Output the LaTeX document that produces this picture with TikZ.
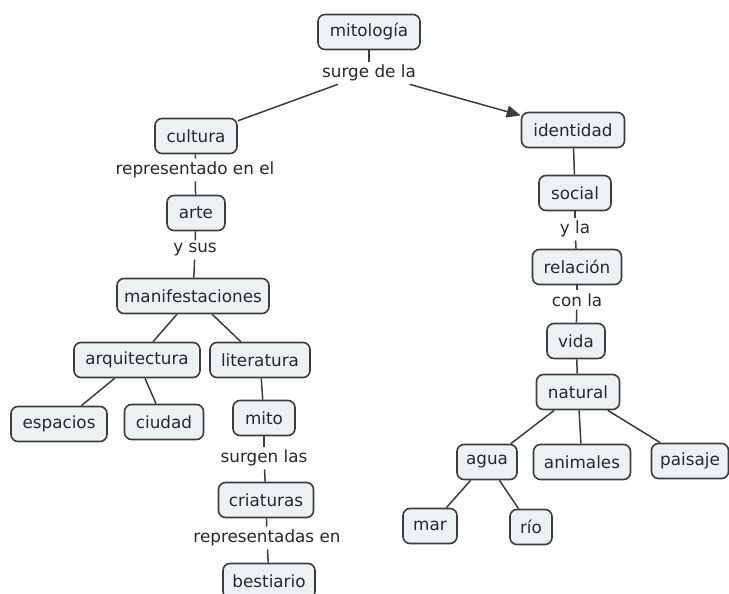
\documentclass[tikz,border=0pt]{standalone}
\usepackage{fontspec}
\setmainfont{DejaVu Sans}
\usetikzlibrary{arrows.meta}
\definecolor{boxfill}{RGB}{236,242,244}
\definecolor{edgec}{RGB}{60,60,60}
\definecolor{txtc}{RGB}{40,40,40}
\begin{document}
\begin{tikzpicture}[x=1pt,y=-1pt,
  concept/.style={draw=edgec, line width=1.6pt, fill=boxfill, rounded corners=7pt,
    minimum height=35pt, inner xsep=4pt, inner ysep=2pt, text=txtc,
    font=\fontsize{16.8}{18}\selectfont},
  linkl/.style={inner sep=3pt, text=txtc, font=\fontsize{16.8}{18}\selectfont},
  conn/.style={draw=edgec, line width=1.5pt},
  arr/.style={conn, -{Triangle[length=14pt,width=12pt]}}]
\useasboundingbox (0,0) rectangle (729,594);
% left branch
\node[concept, minimum width=102] (mit) at (369,32) {mitología};
\node[linkl] (l1) at (369,73) {surge de la};
\node[concept, minimum width=82] (cul) at (196,136) {cultura};
\node[linkl] (l2) at (195,170) {representado en el};
\node[concept, minimum width=58] (art) at (196,213) {arte};
\node[linkl] (l3) at (195,250) {y sus};
\node[concept, minimum width=152] (man) at (193,296) {manifestaciones};
\node[concept, minimum width=126] (arq) at (137,360) {arquitectura};
\node[concept, minimum width=100] (lit) at (260,360) {literatura};
\node[concept, minimum width=96] (esp) at (59,424) {espacios};
\node[concept, minimum width=79] (ciu) at (164,422) {ciudad};
\node[concept, minimum width=62] (mto) at (264,418) {mito};
\node[linkl] (l4) at (264,458) {surgen las};
\node[concept, minimum width=95] (cri) at (266,500) {criaturas};
\node[linkl] (l5) at (267,538) {representadas en};
\node[concept, minimum width=92] (bes) at (269,581) {bestiario};
% right branch
\node[concept, minimum width=103] (ide) at (573,130) {identidad};
\node[concept, minimum width=72] (soc) at (575,193) {social};
\node[linkl] (l6) at (575,229) {y la};
\node[concept, minimum width=89] (rel) at (577,267) {relación};
\node[linkl] (l7) at (577,300) {con la};
\node[concept, minimum width=58] (vid) at (576,341) {vida};
\node[concept, minimum width=83] (nat) at (578,392) {natural};
\node[concept, minimum width=60] (agu) at (487,462) {agua};
\node[concept, minimum width=97] (ani) at (582,462) {animales};
\node[concept, minimum width=77] (pai) at (690,461) {paisaje};
\node[concept, minimum width=54] (mar) at (430,526) {mar};
\node[concept, minimum width=42] (rio) at (531,527) {río};
% connectors
\draw[conn] (mit) -- (l1);
\draw[conn] (l1) -- (cul);
\draw[arr] (l1) -- (ide);
\draw[conn] (cul) -- (l2);
\draw[conn] (l2) -- (art);
\draw[conn] (art) -- (l3);
\draw[conn] (l3) -- (man);
\draw[conn] (man) -- (arq);
\draw[conn] (man) -- (lit);
\draw[conn] (arq) -- (esp);
\draw[conn] (arq) -- (ciu);
\draw[conn] (lit) -- (mto);
\draw[conn] (mto) -- (l4);
\draw[conn] (l4) -- (cri);
\draw[conn] (cri) -- (l5);
\draw[conn] (l5) -- (bes);
\draw[conn] (ide) -- (soc);
\draw[conn] (soc) -- (l6);
\draw[conn] (l6) -- (rel);
\draw[conn] (rel) -- (l7);
\draw[conn] (l7) -- (vid);
\draw[conn] (vid) -- (nat);
\draw[conn] (nat) -- (agu);
\draw[conn] (nat) -- (ani);
\draw[conn] (nat) -- (pai);
\draw[conn] (agu) -- (mar);
\draw[conn] (agu) -- (rio);
\end{tikzpicture}
\end{document}
